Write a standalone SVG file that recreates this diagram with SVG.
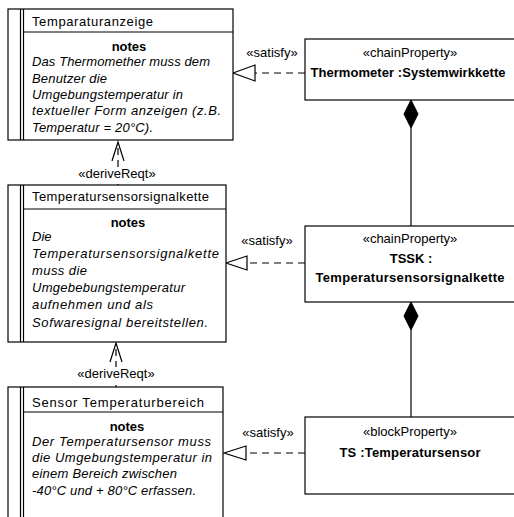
<svg xmlns="http://www.w3.org/2000/svg" width="514" height="517" viewBox="0 0 514 517">
<style>
text{font-family:"Liberation Sans",Arial,sans-serif;font-size:13px;fill:#000}
.b{font-weight:bold}
.i{font-style:italic}
.m{text-anchor:middle}
.box{fill:#fff;stroke:#000;stroke-width:1.2}
.ln{stroke:#000;stroke-width:1.2;fill:none}
.dash{stroke:#000;stroke-width:1.2;fill:none;stroke-dasharray:7,5}
.tri{fill:#fff;stroke:#000;stroke-width:1.2}
.dia{fill:#000;stroke:#000;stroke-width:1}
</style>
<rect width="514" height="517" fill="#fff"/>

<g id="connectors">
  <line class="dash" x1="305" y1="73" x2="255" y2="73"/>
  <polygon class="tri" points="233,73 255,65 255,81"/>
  <text class="m" x="272" y="57">«satisfy»</text>

  <line class="dash" x1="305" y1="263" x2="247" y2="263"/>
  <polygon class="tri" points="226,263 247,256 247,270"/>
  <text class="m" x="267" y="245">«satisfy»</text>

  <line class="dash" x1="305" y1="453" x2="246" y2="453"/>
  <polygon class="tri" points="224,453 246,446 246,460"/>
  <text class="m" x="268" y="437">«satisfy»</text>

  <line class="ln" x1="411" y1="128" x2="411" y2="226"/>
  <polygon class="dia" points="411,100 418,114 411,128 404,114"/>
  <line class="ln" x1="411" y1="330" x2="411" y2="417"/>
  <polygon class="dia" points="411,302 418,316 411,330 404,316"/>

  <line class="dash" x1="118" y1="148" x2="118" y2="185" stroke-dasharray="6,4"/>
  <polyline class="ln" points="112,161 118,142 124,161"/>
  <rect x="76" y="167" width="82" height="14" fill="#fff"/>
  <text class="m" x="117" y="178">«deriveReqt»</text>

  <line class="dash" x1="116" y1="349" x2="116" y2="387" stroke-dasharray="6,4"/>
  <polyline class="ln" points="110,362 116,343 122,362"/>
  <rect x="74" y="367" width="82" height="14" fill="#fff"/>
  <text class="m" x="116" y="378">«deriveReqt»</text>
</g>

<g id="req-temparaturanzeige">
  <rect class="box" x="8" y="9" width="225" height="131"/>
  <line class="ln" x1="20.5" y1="9" x2="20.5" y2="140"/>
  <line class="ln" x1="23.5" y1="9" x2="23.5" y2="140"/>
  <line class="ln" x1="23.5" y1="32" x2="233" y2="32"/>
  <text x="32" y="26" textLength="121" lengthAdjust="spacing">Temparaturanzeige</text>
  <text class="b m" x="129" y="51">notes</text>
  <text class="i" x="32" y="66" textLength="178" lengthAdjust="spacing">Das Thermomether muss dem</text>
  <text class="i" x="32" y="83" textLength="75" lengthAdjust="spacing">Benutzer die</text>
  <text class="i" x="32" y="99" textLength="151" lengthAdjust="spacing">Umgebungstemperatur in</text>
  <text class="i" x="32" y="115" textLength="189" lengthAdjust="spacing">textueller Form anzeigen (z.B.</text>
  <text class="i" x="32" y="132" textLength="121" lengthAdjust="spacing">Temperatur = 20°C).</text>
</g>

<g id="req-tssignal">
  <rect class="box" x="8" y="185" width="218" height="157"/>
  <line class="ln" x1="20.5" y1="185" x2="20.5" y2="342"/>
  <line class="ln" x1="23.5" y1="185" x2="23.5" y2="342"/>
  <line class="ln" x1="23.5" y1="209" x2="226" y2="209"/>
  <text x="32" y="201" textLength="177" lengthAdjust="spacing">Temperatursensorsignalkette</text>
  <text class="b m" x="128" y="227">notes</text>
  <text class="i" x="32" y="241">Die</text>
  <text class="i" x="32" y="258" textLength="187" lengthAdjust="spacing">Temperatursensorsignalkette</text>
  <text class="i" x="32" y="275" textLength="55" lengthAdjust="spacing">muss die</text>
  <text class="i" x="32" y="292" textLength="153" lengthAdjust="spacing">Umgebebungstemperatur</text>
  <text class="i" x="32" y="309" textLength="121" lengthAdjust="spacing">aufnehmen und als</text>
  <text class="i" x="32" y="327" textLength="176" lengthAdjust="spacing">Sofwaresignal bereitstellen.</text>
</g>

<g id="req-sensorbereich">
  <rect class="box" x="8" y="387" width="215" height="150"/>
  <line class="ln" x1="20.5" y1="387" x2="20.5" y2="537"/>
  <line class="ln" x1="23.5" y1="387" x2="23.5" y2="537"/>
  <line class="ln" x1="23.5" y1="412" x2="223" y2="412"/>
  <text x="32" y="407" textLength="172" lengthAdjust="spacing">Sensor Temperaturbereich</text>
  <text class="b m" x="127" y="431">notes</text>
  <text class="i" x="32" y="446" textLength="179" lengthAdjust="spacing">Der Temperatursensor muss</text>
  <text class="i" x="32" y="462" textLength="180" lengthAdjust="spacing">die Umgebungstemperatur in</text>
  <text class="i" x="32" y="478" textLength="145" lengthAdjust="spacing">einem Bereich zwischen</text>
  <text class="i" x="32" y="495" textLength="164" lengthAdjust="spacing">-40°C und + 80°C erfassen.</text>
</g>

<g id="prop-thermometer">
  <rect class="box" x="305" y="39" width="220" height="61"/>
  <text class="m" x="410" y="57">«chainProperty»</text>
  <text class="b m" x="408" y="77" textLength="195" lengthAdjust="spacing">Thermometer :Systemwirkkette</text>
</g>

<g id="prop-tssk">
  <rect class="box" x="305" y="226" width="220" height="76"/>
  <text class="m" x="410" y="243">«chainProperty»</text>
  <text class="b m" x="411" y="263">TSSK :</text>
  <text class="b m" x="410" y="282" textLength="189" lengthAdjust="spacing">Temperatursensorsignalkette</text>
</g>

<g id="prop-ts">
  <rect class="box" x="305" y="417" width="220" height="77"/>
  <text class="m" x="410" y="436">«blockProperty»</text>
  <text class="b m" x="410" y="457" textLength="141" lengthAdjust="spacing">TS :Temperatursensor</text>
</g>
</svg>
